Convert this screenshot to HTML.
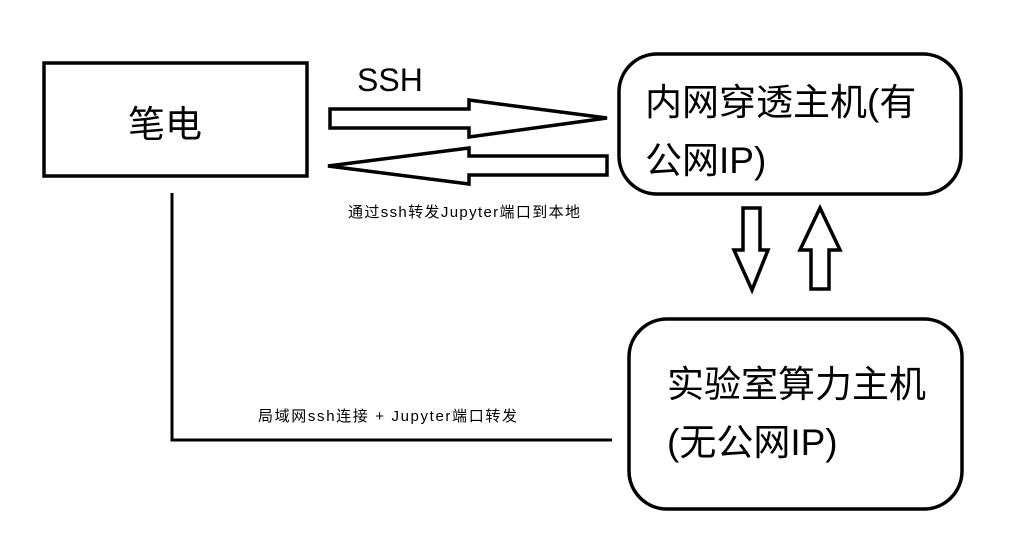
<!DOCTYPE html>
<html><head><meta charset="utf-8"><style>
html,body{margin:0;padding:0;background:#fff;width:1024px;height:545px;overflow:hidden}
svg text{font-family:"Liberation Sans","Noto Sans CJK SC",sans-serif;fill:#000}
</style></head><body>
<svg width="1024" height="545" viewBox="0 0 1024 545" xmlns="http://www.w3.org/2000/svg">
<g fill="#fff" stroke="#000" stroke-width="3.5" stroke-linejoin="miter">
<rect x="44" y="63" width="263" height="113"/>
<rect x="619" y="54" width="342" height="140" rx="38" ry="38"/>
<rect x="629" y="319" width="333" height="190" rx="38" ry="38"/>
<polygon points="330,109 469,109 469,100 607,118 469,137 469,128 330,128"/>
<polygon points="607,156 469,156 469,148 328,166 469,184 469,175 607,175"/>
<polygon points="743,208 760,208 760,250 768,250 752,290 734,250 743,250"/>
<polygon points="811,289 829,289 829,250 840,250 820,208 800,250 811,250"/>
</g>
<polyline points="172,193 172,440 612,440" fill="none" stroke="#000" stroke-width="3"/>
<text x="128" y="137" font-size="37">笔电</text>
<text x="357" y="91" font-size="32">SSH</text>
<text x="645" y="115" font-size="37">内网穿透主机(有</text>
<text x="645" y="173" font-size="37">公网IP)</text>
<text x="667" y="397" font-size="37">实验室算力主机</text>
<text x="667" y="455" font-size="37">(无公网IP)</text>
<text x="348" y="217" font-size="15" textLength="232" lengthAdjust="spacing">通过ssh转发Jupyter端口到本地</text>
<text x="258" y="421" font-size="15" textLength="259" lengthAdjust="spacing">局域网ssh连接 + Jupyter端口转发</text>
</svg>
</body></html>
